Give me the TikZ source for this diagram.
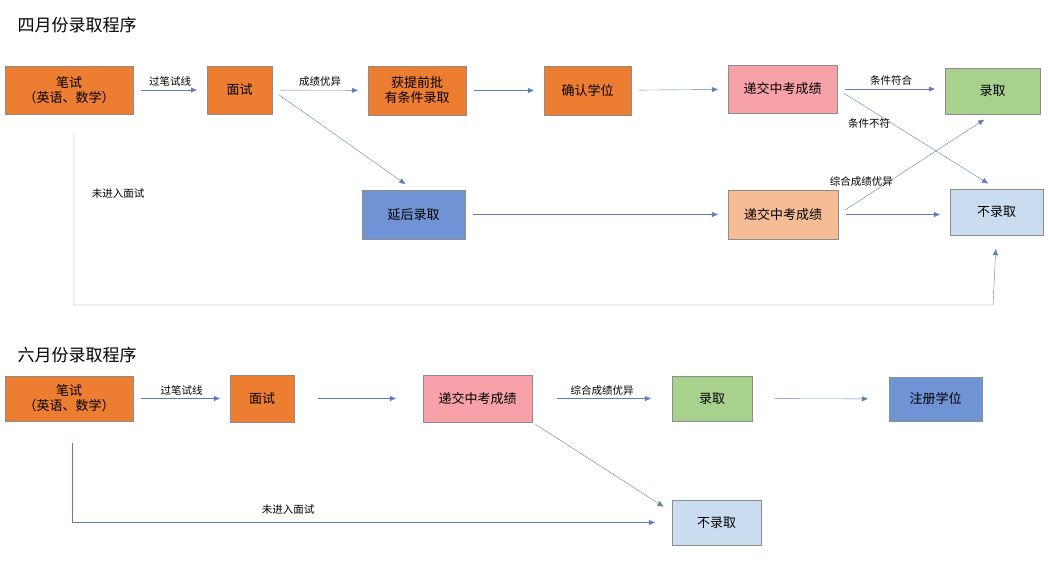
\documentclass[tikz,border=0pt]{standalone}
\usepackage{fontspec}
\setmainfont{Noto Sans CJK SC}
\usetikzlibrary{positioning,
        arrows.meta}
\usepackage{xcolor}
\definecolor{orangebox}{HTML}{ED7D31}
\definecolor{pinkbox}{HTML}{F6A2A8}
\definecolor{greenbox}{HTML}{A9D18E}
\definecolor{bluebox}{HTML}{6F93D4}
\definecolor{peachbox}{HTML}{F6BC96}
\definecolor{paleblue}{HTML}{CADDF0}
\definecolor{arrowcol}{HTML}{5D7FB5}
\tikzset{
    box/.style={draw=black!45, minimum width=#1, inner sep=0pt, font=\fontsize{13}{15}\selectfont, align=center},
    link/.style={draw=arrowcol, -{Triangle[length=6pt,width=5pt]}, shorten <=8pt, shorten >=10pt},
    lab/.style={font=\fontsize{10.5}{12}\selectfont}
}
\begin{document}
\begin{tikzpicture}[x=1pt,y=-1pt]
        \useasboundingbox (0,0) rectangle (1048,586);
        \node [anchor=west, font=\fontsize{17}{20}\selectfont] (t1) at (14,25) {四月份录取程序};
        \node [anchor=west, font=\fontsize{17}{20}\selectfont] (t2) at (14,355) {六月份录取程序};

        \node [box=128pt, minimum height=48pt, fill=orangebox] (bs) at (69,90) {笔试\\（英语、数学）};
        \node [box=65pt, minimum height=48pt, fill=orangebox] (ms) at (239.5,90) {面试};
        \node [box=98pt, minimum height=49pt, fill=orangebox] (hq) at (417,90.5) {获提前批\\有条件录取};
        \node [box=87pt, minimum height=49pt, fill=orangebox] (qr) at (587.5,90.5) {确认学位};
        \node [box=109pt, minimum height=48pt, fill=pinkbox] (dj) at (782.5,89) {递交中考成绩};
        \node [box=95pt, minimum height=46pt, fill=greenbox] (lq) at (992.5,91) {录取};
        \node [box=103pt, minimum height=49pt, fill=bluebox] (yh) at (413.5,214.5) {延后录取};
        \node [box=110pt, minimum height=49pt, fill=peachbox] (dk) at (783,214.5) {递交中考成绩};
        \node [box=93pt, minimum height=46pt, fill=paleblue] (bl) at (996.5,212) {不录取};

        \draw [link] (bs) -- node [lab, above] {过笔试线} (ms);
        \draw [link] (ms) -- node [lab, above] {成绩优异} (hq);
        \draw [link] (ms.east) -- (yh.north);
        \draw [link] (hq) -- (qr);
        \draw [link] (qr) -- (dj);
        \draw [link] (dj.east) -- node [lab, above] {条件符合} (dj.east -| lq.west);
        \draw [link] (dj.east) -- node [lab, pos=0.2, below=6pt] {条件不符} (bl.north);
        \draw [link] (yh) -- (dk);
        \draw [link] (dk.east) -- node [lab, pos=0.15, above=10pt] {综合成绩优异} (lq.south);
        \draw [link] (dk.east) -- (dk.east -| bl.west);
        \draw [link, shorten <=19pt, shorten >=14pt] (bs.south -| 74,0) |- (993,305) node [lab, pos=0.35, left=0pt] {} -- (bl.south);
        \node [lab] (wj1) at (118,194) {未进入面试};

        \node [box=128pt, minimum height=45pt, fill=orangebox] (bs2) at (69,398.5) {笔试\\（英语、数学）};
        \node [box=64pt, minimum height=47pt, fill=orangebox] (ms2) at (262,398.5) {面试};
        \node [box=109pt, minimum height=47pt, fill=pinkbox] (dj2) at (477.5,398.5) {递交中考成绩};
        \node [box=80pt, minimum height=45pt, fill=greenbox] (lq2) at (712,398.5) {录取};
        \node [box=93pt, minimum height=44pt, fill=bluebox] (zc) at (935.5,399) {注册学位};
        \node [box=89pt, minimum height=45pt, fill=paleblue] (bl2) at (716.5,522.5) {不录取};

        \draw [link] (bs2) -- node [lab, above] {过笔试线} (ms2);
        \draw [link, shorten <=24pt, shorten >=27pt] (ms2) -- (dj2);
        \draw [link, shorten <=25pt, shorten >=21pt] (dj2) -- node [lab, above] {综合成绩优异} (lq2);
        \draw [link, shorten <=23pt, shorten >=21pt] (lq2) -- (zc);
        \draw [link, shorten <=4pt] (dj2.south east) -- (bl2.west |- 0,512);
        \draw [link, shorten <=22pt, shorten >=17pt] (bs2.south -| 72,0) |- (bl2.west);
        \node [lab] (wj2) at (288,510) {未进入面试};
\end{tikzpicture}
\end{document}
